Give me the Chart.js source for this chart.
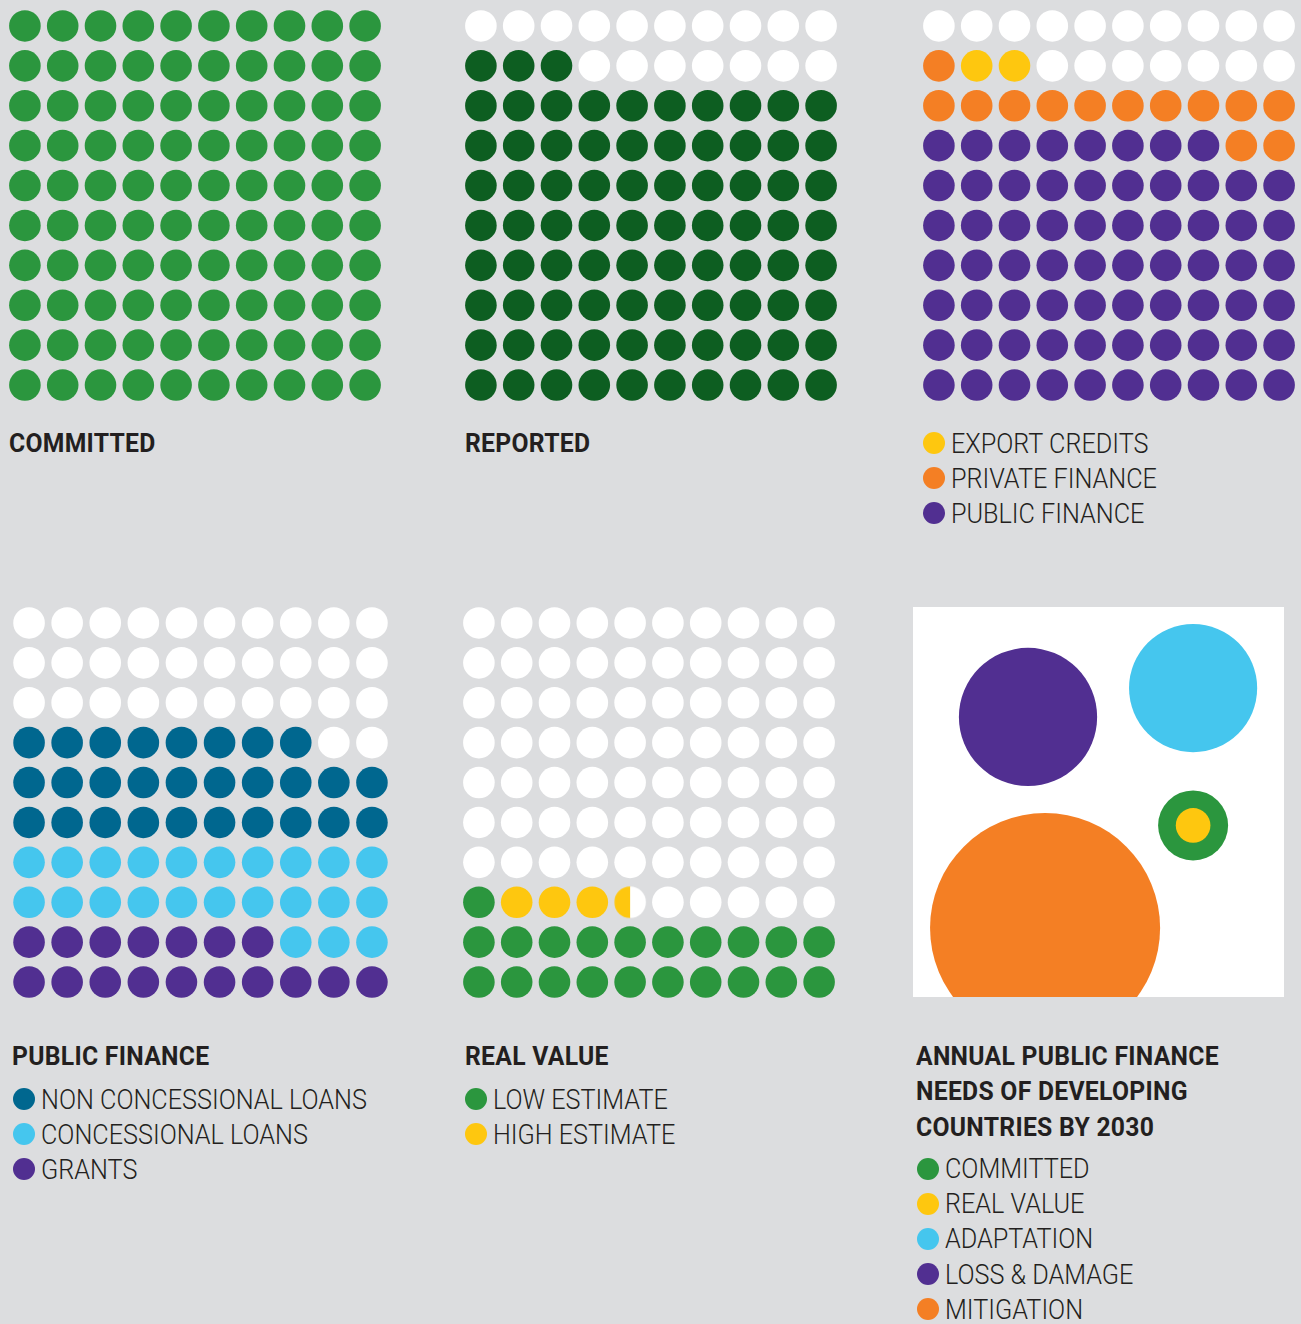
<!DOCTYPE html>
<html><head><meta charset="utf-8">
<script src="https://cdn.jsdelivr.net/npm/chart.js@4.4.0/dist/chart.umd.min.js"></script>
<style>
html,body{margin:0;padding:0;background:#dcdddf;}
body{width:1301px;height:1324px;position:relative;overflow:hidden;font-family:Roboto,"Noto Sans",sans-serif;color:#231f20;}
canvas{position:absolute;display:block;}
.title{position:absolute;font-weight:700;font-size:26px;line-height:34px;height:34px;white-space:nowrap;letter-spacing:0.3px;transform:scaleX(0.95);transform-origin:0 50%;}
.leg{position:absolute;height:35px;line-height:35px;white-space:nowrap;}
.leg .dot{position:absolute;width:22px;height:22px;border-radius:50%;top:6.5px;}
.leg .txt{position:absolute;top:0;font-weight:300;font-size:28px;transform:scaleX(0.9);transform-origin:0 50%;}
#box{position:absolute;left:913px;top:607px;width:371px;height:390px;background:#fff;}
</style></head><body>
<div id="box"></div>
<script>
// ---------------- DATA (1 dot = 1 unit, 100 dots per grid) ----------------
const committedLabels = ['COMMITTED'];
const committedValues = [100];

const reportedLabels = ['REPORTED'];
const reportedValues = [83];

const sourceLabels = ['EXPORT CREDITS', 'PRIVATE FINANCE', 'PUBLIC FINANCE'];
const sourceValues = [2, 13, 68];

const publicTitle = ['PUBLIC FINANCE'];
const publicLabels = ['NON CONCESSIONAL LOANS', 'CONCESSIONAL LOANS', 'GRANTS'];
const publicValues = [28, 23, 17];

const realTitle = ['REAL VALUE'];
const realLabels = ['LOW ESTIMATE', 'HIGH ESTIMATE'];
const realValues = [21, 3.5];

const needsTitle = ['ANNUAL PUBLIC FINANCE', 'NEEDS OF DEVELOPING', 'COUNTRIES BY 2030'];
const needsLabels = ['COMMITTED', 'REAL VALUE', 'ADAPTATION', 'LOSS & DAMAGE', 'MITIGATION'];
const needsValues = [100, 24.5, 335, 390, 1080];

// ---------------- STYLES / LAYOUT ----------------
const C = {
  green: '#2b963e', dkgreen: '#0d5e21', yellow: '#fec70f', orange: '#f47f24',
  purple: '#512f91', teal: '#00678f', sky: '#45c6ee', white: '#ffffff'
};
const DOT_R = 15.8;

function cellParts(fill) {
  const cells = [];
  for (let k = 0; k < 100; k++) {
    const parts = []; let start = 0;
    fill.forEach(f => {
      const a = Math.max(start, k), b = Math.min(start + f.value, k + 1);
      if (b > a + 1e-9) parts.push({ color: f.color, frac: b - a });
      start += f.value;
    });
    const used = parts.reduce((s, p) => s + p.frac, 0);
    if (used < 1 - 1e-9) parts.push({ color: C.white, frac: 1 - used });
    cells.push(parts);
  }
  return cells;
}

function splitDot(parts, r) {
  const s = Math.ceil(2 * r) + 2;
  const cv = document.createElement('canvas');
  cv.width = s; cv.height = s;
  const g = cv.getContext('2d');
  g.save();
  g.beginPath(); g.arc(s / 2, s / 2, r, 0, Math.PI * 2); g.clip();
  let x0 = s / 2 - r;
  parts.forEach((p, i) => {
    const w = p.frac * 2 * r;
    g.fillStyle = p.color;
    g.fillRect(x0, 0, w + (i === parts.length - 1 ? 2 : 0.5), s);
    x0 += w;
  });
  g.restore();
  return cv;
}

const baseOptions = () => ({
  responsive: false, animation: false, devicePixelRatio: 1,
  layout: { padding: 0, autoPadding: false },
  plugins: { legend: { display: false }, tooltip: { enabled: false } },
  events: []
});

function makeCanvas(box) {
  const cv = document.createElement('canvas');
  cv.width = box.w; cv.height = box.h;
  cv.style.left = box.x + 'px'; cv.style.top = box.y + 'px';
  cv.style.width = box.w + 'px'; cv.style.height = box.h + 'px';
  document.body.appendChild(cv);
  return cv;
}

function waffle(box, fill) {
  const cv = makeCanvas(box);
  const cells = cellParts(fill);
  const groups = {}; const datasets = [];
  cells.forEach((parts, k) => {
    const pt = { x: k % 10, y: Math.floor(k / 10) };
    if (parts.length === 1) {
      const col = parts[0].color;
      if (!groups[col]) {
        groups[col] = { data: [], backgroundColor: col, pointRadius: DOT_R, pointHoverRadius: DOT_R, pointBorderWidth: 0, borderWidth: 0, clip: false };
        datasets.push(groups[col]);
      }
      groups[col].data.push(pt);
    } else {
      datasets.push({ data: [pt], pointStyle: splitDot(parts, DOT_R), pointRadius: DOT_R, pointHoverRadius: DOT_R, pointBorderWidth: 0, borderWidth: 0, backgroundColor: parts[0].color, clip: false });
    }
  });
  const opts = baseOptions();
  opts.scales = {
    x: { type: 'linear', min: -0.5, max: 9.5, display: false },
    y: { type: 'linear', min: -0.5, max: 9.5, display: false }
  };
  new Chart(cv, { type: 'scatter', data: { datasets }, options: opts });
}

function fillFrom(values, colors, order) {
  return order.map(i => ({ value: values[i], color: colors[i] }));
}

// Panels 1-3 (top row)
waffle({ x: 6, y: 6, w: 378, h: 399 }, fillFrom(committedValues, [C.green], [0]));
waffle({ x: 462, y: 6, w: 378, h: 399 }, fillFrom(reportedValues, [C.dkgreen], [0]));
const sourceColors = [C.yellow, C.orange, C.purple];
waffle({ x: 920, y: 6, w: 378, h: 399 }, fillFrom(sourceValues, sourceColors, [2, 1, 0]));
// Panels 4-5 (bottom row)
const publicColors = [C.teal, C.sky, C.purple];
waffle({ x: 10, y: 603, w: 381, h: 399 }, fillFrom(publicValues, publicColors, [2, 1, 0]));
const realColors = [C.green, C.yellow];
waffle({ x: 460, y: 603, w: 378, h: 399 }, fillFrom(realValues, realColors, [0, 1]));

// Panel 6 bubbles (area proportional to value)
const needsColors = [C.green, C.yellow, C.sky, C.purple, C.orange];
const bubbleCenters = [[75.5, 56.0], [75.5, 56.0], [75.5, 20.8], [31.0, 28.2], [35.6, 82.3]]; // layout, % of box
const PX_PER_SQRT = 3.5;
(function () {
  const cv = makeCanvas({ x: 913, y: 607, w: 371, h: 390 });
  const drawOrder = [1, 0, 2, 2, 2];
  const opts = baseOptions();
  opts.scales = {
    x: { type: 'linear', min: 0, max: 100, display: false },
    y: { type: 'linear', min: 0, max: 100, reverse: true, display: false }
  };
  new Chart(cv, {
    type: 'bubble',
    data: {
      datasets: needsLabels.map((lab, i) => ({
        label: lab,
        data: [{ x: bubbleCenters[i][0], y: bubbleCenters[i][1], r: PX_PER_SQRT * Math.sqrt(needsValues[i]) }],
        backgroundColor: needsColors[i], borderWidth: 0, hoverBorderWidth: 0, hoverRadius: 0,
        order: drawOrder[i]
      }))
    },
    options: opts
  });
})();

// ---------------- TEXT ----------------
function title(lines, x, cy, step) {
  lines.forEach((t, i) => {
    const d = document.createElement('div');
    d.className = 'title'; d.textContent = t;
    d.style.left = (x - 1) + 'px'; d.style.top = (cy + i * step - 17) + 'px';
    document.body.appendChild(d);
  });
}
function legend(labels, colors, dotCx, textX, cy, step) {
  labels.forEach((t, i) => {
    const row = document.createElement('div');
    row.className = 'leg';
    row.style.left = '0px'; row.style.top = (cy + i * step - 17.5) + 'px';
    const dot = document.createElement('span'); dot.className = 'dot';
    dot.style.left = (dotCx - 11) + 'px'; dot.style.background = colors[i];
    const tx = document.createElement('span'); tx.className = 'txt';
    tx.style.left = (textX - 2) + 'px'; tx.textContent = t;
    row.appendChild(dot); row.appendChild(tx);
    document.body.appendChild(row);
  });
}
title(committedLabels, 10, 443, 35);
title(reportedLabels, 466, 443, 35);
legend(sourceLabels, sourceColors, 934, 953, 443, 35);
title(publicTitle, 13, 1056, 35);
legend(publicLabels, publicColors, 24, 43, 1099, 35);
title(realTitle, 466, 1056, 35);
legend(realLabels, realColors, 476, 495, 1099, 35);
title(needsTitle, 917, 1056, 35.3);
legend(needsLabels, needsColors, 928, 947, 1168.5, 35.2);
</script>
</body></html>
